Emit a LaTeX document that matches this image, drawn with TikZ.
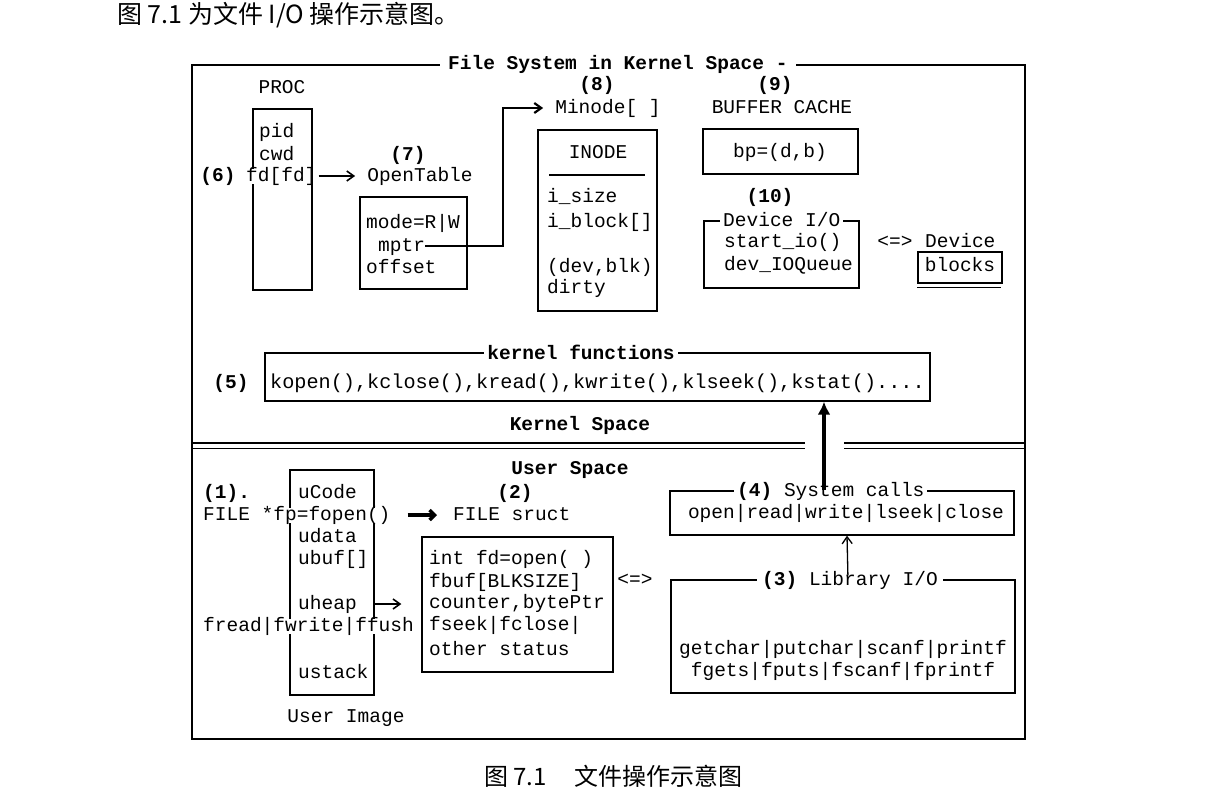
\documentclass[tikz,border=0pt]{standalone}
\usepackage{fontspec}
\setmonofont{Liberation Mono}
\newfontfamily\cjk{Noto Sans CJK SC}
\usetikzlibrary{arrows.meta,positioning}
\newcommand{\mono}{\ttfamily\fontsize{19.5}{22}\selectfont}

\begin{document}
\begin{tikzpicture}[x=1pt, y=-1pt,
    box/.style={rectangle, draw, line width=1.3pt, inner sep=0pt},
    txt/.style={font=\mono, inner sep=0pt, text height=13pt, text depth=2pt},
    hd/.style={txt, font=\mono\bfseries},
    cover/.style={fill=white, inner xsep=3pt},
    link/.style={line width=1.6pt, -{Straight Barb[length=7pt,width=10pt]}},
    fat/.style={line width=3.5pt, -{Straight Barb[length=5pt,width=10pt]}},
    page/.style={font=\cjk\fontsize{24}{28}\selectfont, inner sep=0pt, anchor=west}
]
\useasboundingbox (0,0) rectangle (1207,811);

% Page text
\node[page, font=\cjk\fontsize{25}{30}\selectfont] (intro) at (117,15) {图 7.1 为文件 I/O 操作示意图。};
\node[page] (caption) at (484,776) {图 7.1\hspace{28pt}文件操作示意图};

% Outer frame
\node[box, minimum width=833pt, minimum height=674pt] (fs) at (608.5,402) {};
\node[hd, cover, anchor=west, inner xsep=8pt] (fstitle) at (440,64) {File System in Kernel Space -};

% PROC
\node[txt] (proct) at (282,88) {PROC};
\node[box, minimum width=59pt, minimum height=181pt] (proc) at (282.5,199.5) {};
\node[txt, anchor=west] (pid) at (259,132) {pid};
\node[txt, anchor=west] (cwd) at (259,155) {cwd};
\node[txt, anchor=west, fill=white] (fd) at (246,176) {fd[fd]};
\draw[line width=1.3pt] (proc.north east) -- (proc.south east);
\node[hd] (n6) at (218,176) {(6)};

% OpenTable
\node[hd] (n7) at (408,155) {(7)};
\node[txt] (opent) at (420,176) {OpenTable};
\node[box, minimum width=107pt, minimum height=92pt] (opentab) at (413.5,243) {};
\node[txt, anchor=west] (mode) at (366,223) {mode=R|W};
\node[txt, anchor=west] (mptr) at (378,246) {mptr};
\node[txt, anchor=west] (offset) at (366,268) {offset};
\draw[link, shorten <=2pt, shorten >=12pt] (fd) -- (opent);

% Minode
\node[hd] (n8) at (597,85) {(8)};
\node[txt] (minode) at (608,108) {Minode[ ]};
\node[box, minimum width=119pt, minimum height=181pt] (inode) at (597.5,220.5) {};
\node[txt] (inodet) at (598,153) {INODE};
\draw[line width=1.3pt] (549,175) -- (645,175);
\node[txt, anchor=west] (isize) at (547,197) {i\_size};
\node[txt, anchor=west] (iblock) at (547,222) {i\_block[]};
\node[txt, anchor=west] (devblk) at (547,267) {(dev,blk)};
\node[txt, anchor=west] (dirty) at (547,288) {dirty};
\coordinate (bend) at (503,246);
\draw[link, line width=2.2pt, shorten >=12pt] (mptr.east) -- (bend) |- (minode.west);

% Buffer cache
\node[hd] (n9) at (775,85) {(9)};
\node[txt] (bcache) at (782,108) {BUFFER CACHE};
\node[box, minimum width=155pt, minimum height=45pt] (bp) at (780.5,151.5) {};
\node[txt] (bpt) at (780,152) {bp=(d,b)};

% Device I/O
\node[hd] (n10) at (770,197) {(10)};
\node[box, minimum width=155pt, minimum height=67pt] (devio) at (781.5,254.5) {};
\node[txt, cover, anchor=west] (deviot) at (720,221) {Device I/O};
\node[txt, anchor=west] (startio) at (724,242) {start\_io()};
\node[txt, anchor=west] (ioqueue) at (724,265) {dev\_IOQueue};
\node[txt] (xdev) at (895,242) {<=>};
\node[txt, anchor=west] (device) at (925,242) {Device};
\node[box, minimum width=84pt, minimum height=31pt] (blocks) at (960,267.5) {};
\node[txt] (blockst) at (960,266) {blocks};
\draw[line width=1.3pt] (blocks.south west) ++(0,4) -- ++(84,0);

% Kernel functions
\node[box, minimum width=665pt, minimum height=48pt] (kfun) at (597.5,377) {};
\node[hd, cover] (kfunt) at (581,354) {kernel functions};
\node[hd] (n5) at (231,383) {(5)};
\node[txt, anchor=west, font=\ttfamily\fontsize{20.2}{24}\selectfont] (kcalls) at (270,383)
  {kopen(),kclose(),kread(),kwrite(),klseek(),kstat()....};
\node[hd] (kspace) at (580,425) {Kernel Space};

% Divider
\draw[line width=1.8pt] (192,443) -- (805,443) (844,443) -- (1025,443);
\draw[line width=1pt] (192,448) -- (805,448) (844,448) -- (1025,448);

% User Image
\node[hd] (uspace) at (570,469) {User Space};
\node[box, minimum width=84pt, minimum height=225pt] (uimg) at (332,582.5) {};
\node[hd, anchor=west] (n1) at (203,493) {(1).};
\node[txt, anchor=west] (ucode) at (298,493) {uCode};
\node[txt, anchor=west, fill=white] (fopen) at (203,515) {FILE *fp=fopen()};
\node[txt, anchor=west] (udata) at (298,537) {udata};
\node[txt, anchor=west] (ubuf) at (298,559) {ubuf[]};
\node[txt, anchor=west] (uheap) at (298,604) {uheap};
\node[txt, anchor=west, fill=white] (fread) at (203,626) {fread|fwrite|ffush};
\node[txt, anchor=west] (ustack) at (298,673) {ustack};
\node[txt] (uimgt) at (346,717) {User Image};

% FILE struct
\node[hd] (n2) at (515,493) {(2)};
\node[txt, anchor=west] (fsruct) at (453,515) {FILE sruct};
\node[box, minimum width=191pt, minimum height=135pt] (fbox) at (517.5,604.5) {};
\node[txt, anchor=west] (fdopen) at (429,559) {int fd=open( )};
\node[txt, anchor=west] (fbuf) at (429,582) {fbuf[BLKSIZE]};
\node[txt, anchor=west] (counter) at (429,603) {counter,bytePtr};
\node[txt, anchor=west] (fseek) at (429,625) {fseek|fclose|};
\node[txt, anchor=west] (other) at (429,650) {other status};
\draw[fat, shorten <=17pt, shorten >=16pt] (fopen.east) -- (fsruct.west);
\draw[link, shorten <=17pt, shorten >=20pt] (uheap.east) -- (uheap.east -| fbox.west);
\node[txt] (xlib) at (635,580) {<=>};

% System calls
\node[box, minimum width=344pt, minimum height=44pt] (syscall) at (842,513) {};
\node[txt, cover, anchor=west] (syscallt) at (734,491) {\textbf{(4)} System calls};
\node[txt] (sysnames) at (846,513) {open|read|write|lseek|close};
\draw[line width=3.5pt, -{Latex[length=13pt,width=13pt]}]
  ([xshift=-18pt]syscall.north) -- ([xshift=-18pt]syscall.north |- kfun.south);

% Library I/O
\node[box, minimum width=344pt, minimum height=113pt] (libio) at (843,636.5) {};
\node[txt, cover, anchor=west, inner xsep=5pt] (libiot) at (757,580) {\textbf{(3)} Library I/O};
\node[txt] (libone) at (843,649) {getchar|putchar|scanf|printf};
\node[txt] (libtwo) at (843,671) {fgets|fputs|fscanf|fprintf};
\draw[link, line width=1.3pt, shorten <=4pt] ([xshift=5pt]libio.north) -- ([xshift=5pt]syscall.south);
\end{tikzpicture}
\end{document}
